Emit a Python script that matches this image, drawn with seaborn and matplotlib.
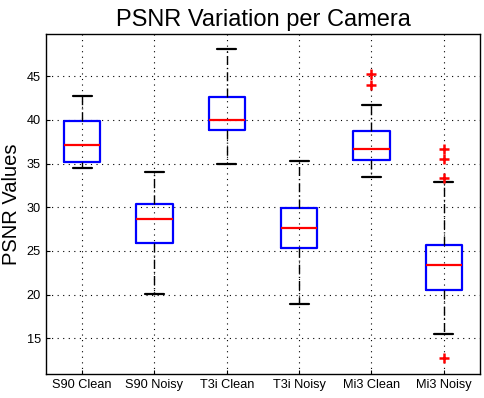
import numpy as np
import pandas as pd
import matplotlib
matplotlib.use("Agg")
import matplotlib.pyplot as plt
import seaborn as sns

# Valores (limites dos bigodes, quartis e mediana)
cameras = ["S90 Clean", "S90 Noisy", "T3i Clean", "T3i Noisy", "Mi3 Clean", "Mi3 Noisy"]
whisker_low = [34.55, 20.13, 34.97, 18.98, 33.51, 15.44]
q1 = [35.20, 25.93, 38.89, 25.39, 35.46, 20.55]
median = [37.17, 28.71, 40.03, 27.68, 36.65, 23.44]
q3 = [39.85, 30.35, 42.67, 29.93, 38.78, 25.73]
whisker_high = [42.78, 34.05, 48.12, 35.34, 41.75, 32.94]

# Outliers (cruzes vermelhas)
outlier_camera = ["Mi3 Clean", "Mi3 Clean", "Mi3 Noisy", "Mi3 Noisy", "Mi3 Noisy", "Mi3 Noisy"]
outlier_value = [45.30, 43.97, 36.72, 35.57, 33.40, 12.77]


def build_frame():
    rows = []
    for i, cam in enumerate(cameras):
        for v in (whisker_low[i], q1[i], median[i], q3[i], whisker_high[i]):
            rows.append({"camera": cam, "psnr": v})
    return pd.DataFrame(rows)


def plot(df, out_df):
    sns.set_style("ticks")
    plt.rcParams["font.family"] = ["Liberation Sans", "DejaVu Sans"]
    plt.rcParams["text.color"] = "black"
    plt.rcParams["axes.labelcolor"] = "black"

    fig = plt.figure(figsize=(4.85, 3.98), dpi=100)
    ax = fig.add_axes([0.0948, 0.0595, 0.8949, 0.8543])

    sns.boxplot(
        data=df, x="camera", y="psnr", order=cameras, ax=ax,
        whis=(0, 100), width=0.5, fill=False, showfliers=False,
        linewidth=1.5,
        boxprops=dict(color="blue", linewidth=1.6),
        medianprops=dict(color="red", linewidth=1.6),
        whiskerprops=dict(color="black", linewidth=1, linestyle=(0, (6.5, 2.2, 0.8, 2.2))),
        capprops=dict(color="black", linewidth=1.6),
    )
    sns.scatterplot(data=out_df, x="camera", y="psnr", ax=ax, marker="+",
                    color="red", s=55, linewidth=1.8, zorder=5)

    # ajusta largura das "caps" (estilo MATLAB)
    for line in ax.lines:
        xs = line.get_xdata()
        ys = line.get_ydata()
        if len(xs) == 2 and ys[0] == ys[1] and line.get_color() == "black":
            c = (xs[0] + xs[1]) / 2
            line.set_xdata([c - 0.13, c + 0.13])

    ax.set_xlim(-0.5, 5.5)
    ax.set_ylim(10.88, 49.8)
    ax.set_yticks([15, 20, 25, 30, 35, 40, 45])
    ax.grid(True, color="black", linestyle=(0, (1, 4)), linewidth=0.8)
    ax.set_axisbelow(True)
    for s in ax.spines.values():
        s.set_visible(True)
        s.set_color("black")
        s.set_linewidth(1)
    ax.tick_params(direction="in", length=3, labelsize=9.2, colors="black")
    ax.set_xlabel("")
    ax.set_ylabel("PSNR Values", fontsize=14.5, color="black")
    ax.set_title("PSNR Variation per Camera", fontsize=17, color="black")

    fig.savefig("out.png", dpi=100)


if __name__ == "__main__":
    df = build_frame()
    out_df = pd.DataFrame({"camera": outlier_camera, "psnr": outlier_value})
    plot(df, out_df)
